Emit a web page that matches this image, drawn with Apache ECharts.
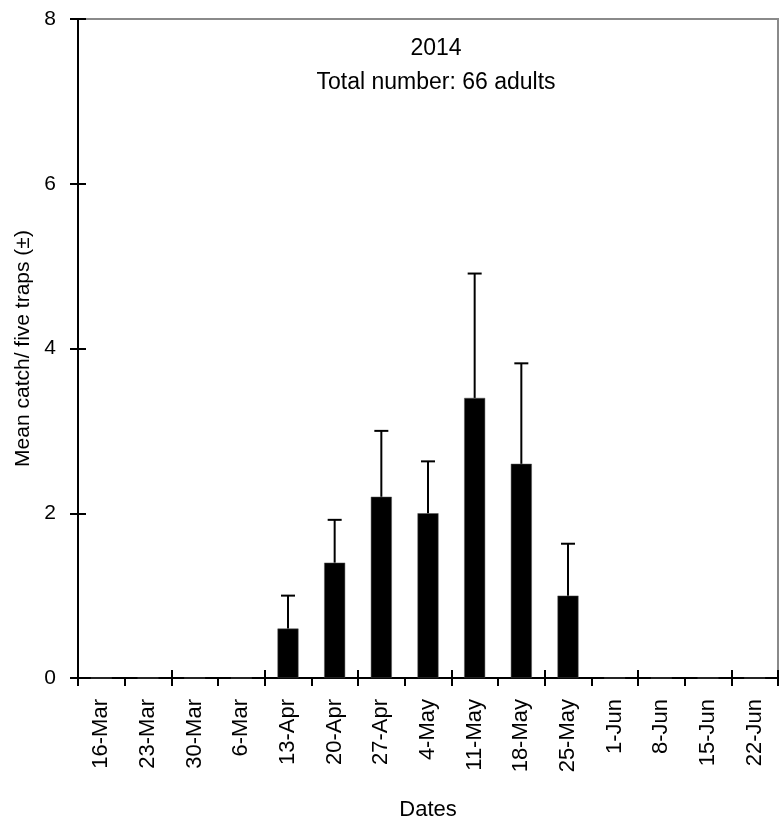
<!DOCTYPE html>
<html>
<head>
<meta charset="utf-8">
<script src="https://cdn.jsdelivr.net/npm/echarts@6/dist/echarts.min.js"></script>
<style>
  html, body { margin: 0; padding: 0; background: #fff; }
  #chart { width: 779px; height: 823px; }
</style>
</head>
<body>
<div id="chart"></div>
<script>
// Weekly sampling dates
const dates = ['16-Mar', '23-Mar', '30-Mar', '6-Mar', '13-Apr', '20-Apr', '27-Apr', '4-May',
  '11-May', '18-May', '25-May', '1-Jun', '8-Jun', '15-Jun', '22-Jun'];
// Mean catch per five traps
const meanCatch = [0, 0, 0, 0, 0.6, 1.4, 2.2, 2.0, 3.4, 2.6, 1.0, 0, 0, 0, 0];
// Upper error (±)
const errorPlus = [0, 0, 0, 0, 0.4, 0.52, 0.8, 0.63, 1.51, 1.22, 0.63, 0, 0, 0, 0];
const yTicks = [0, 2, 4, 6, 8];

const FONT = 'Liberation Sans';

const errorData = meanCatch.map((v, i) => [i, v, v + errorPlus[i]]).filter(d => d[2] > d[1]);

const chart = echarts.init(document.getElementById('chart'), null, { renderer: 'canvas' });

const option = {
  animation: false,
  backgroundColor: '#fff',
  textStyle: { fontFamily: FONT, color: '#000' },
  title: {
    text: '2014\nTotal number: 66 adults',
    left: 431, top: 27, textAlign: 'center',
    textStyle: { fontFamily: FONT, fontSize: 23, fontWeight: 'normal', color: '#000', lineHeight: 34 }
  },
  grid: {
    left: 78, right: 1, top: 19, bottom: 145,
    containLabel: false,
    outerBoundsMode: 'none',
    show: true, borderColor: '#8a8a8a', borderWidth: 2, backgroundColor: 'transparent'
  },
  xAxis: [{
    type: 'category',
    data: dates,
    boundaryGap: true,
    name: 'Dates',
    nameLocation: 'middle',
    nameGap: 121,
    nameTextStyle: { fontFamily: FONT, fontSize: 22, color: '#000' },
    axisLine: { lineStyle: { color: '#000', width: 2 } },
    axisTick: { show: true, alignWithLabel: false, length: 8, lineStyle: { color: '#000', width: 2 } },
    axisLabel: { rotate: 90, margin: 21, fontFamily: FONT, fontSize: 22, color: '#000', interval: 0 },
    splitLine: { show: false }
  }, {
    type: 'category',
    data: dates,
    position: 'bottom',
    boundaryGap: true,
    axisLine: { show: false },
    axisTick: { show: true, inside: true, length: 8, lineStyle: { color: '#000', width: 2 } },
    axisLabel: { show: false },
    splitLine: { show: false }
  }],
  yAxis: [{
    type: 'value',
    min: yTicks[0], max: yTicks[yTicks.length - 1], interval: 2,
    name: 'Mean catch/ five traps (±)',
    nameLocation: 'middle',
    nameGap: 43,
    nameTextStyle: { fontFamily: FONT, fontSize: 21, color: '#000' },
    axisLine: { show: true, lineStyle: { color: '#000', width: 2 } },
    axisTick: { show: true, length: 8, lineStyle: { color: '#000', width: 2 } },
    axisLabel: { margin: 22, fontFamily: FONT, fontSize: 21, color: '#000' },
    splitLine: { show: false }
  }, {
    type: 'value',
    position: 'left',
    min: yTicks[0], max: yTicks[yTicks.length - 1], interval: 2,
    axisLine: { show: false },
    axisTick: { show: true, inside: true, length: 8, lineStyle: { color: '#000', width: 2 } },
    axisLabel: { show: false },
    splitLine: { show: false }
  }],
  series: [{
    type: 'bar',
    data: meanCatch,
    barWidth: 21,
    itemStyle: { color: '#000', borderColor: '#555', borderWidth: 0.5 },
    z: 2
  }, {
    type: 'custom',
    data: errorData,
    z: 3,
    renderItem: function (params, api) {
      const idx = api.value(0);
      const top = api.coord([idx, api.value(2)]);
      const base = api.coord([idx, api.value(1)]);
      const half = 7;
      const style = { stroke: '#000', lineWidth: 2 };
      return {
        type: 'group',
        children: [
          { type: 'line', shape: { x1: top[0], y1: base[1], x2: top[0], y2: top[1] }, style: style },
          { type: 'line', shape: { x1: top[0] - half, y1: top[1], x2: top[0] + half, y2: top[1] }, style: style }
        ]
      };
    }
  }]
};

chart.setOption(option);
</script>
</body>
</html>
